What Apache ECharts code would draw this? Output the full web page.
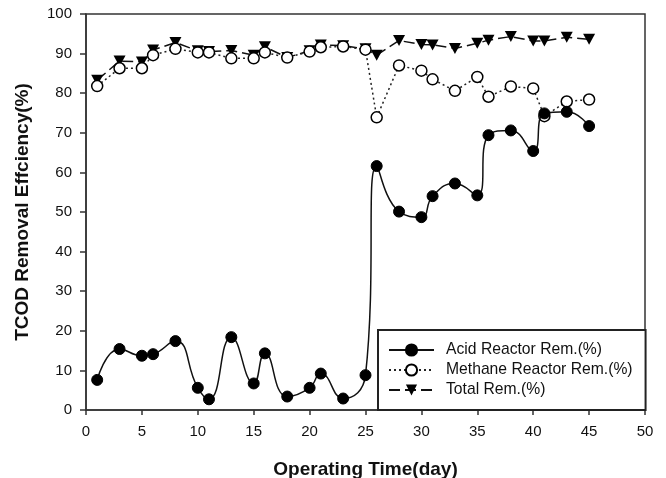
<!DOCTYPE html>
<html><head><meta charset="utf-8">
<script src="https://cdn.jsdelivr.net/npm/echarts@6/dist/echarts.min.js"></script>
<style>html,body{margin:0;padding:0;background:#fff}#c{width:666px;height:478px}</style>
</head><body><div id="c"></div>
<script>
const days = [1,3,5,6,8,10,11,13,15,16,18,20,21,23,25,26,28,30,31,33,35,36,38,40,41,43,45];
const acid = [7.6,15.4,13.7,14.1,17.4,5.6,2.7,18.4,6.7,14.3,3.4,5.6,9.2,2.9,8.8,61.6,50.1,48.7,54.0,57.2,54.2,69.4,70.6,65.4,74.9,75.3,71.7];
const methane = [81.8,86.3,86.3,89.6,91.2,90.3,90.3,88.8,88.8,90.3,89.0,90.5,91.6,91.8,91.0,73.9,87.0,85.7,83.5,80.6,84.1,79.1,81.7,81.2,74.2,77.9,78.4];
const total = [83.3,88.1,87.9,90.9,92.8,90.7,90.5,90.8,89.6,91.7,89.0,90.7,92.2,92.0,91.2,89.6,93.3,92.3,92.2,91.3,92.6,93.4,94.3,93.2,93.2,94.1,93.6];
const seriesNames = ['Acid Reactor Rem.(%)','Methane Reactor Rem.(%)','Total Rem.(%)'];
const xTitle = 'Operating Time(day)';
const yTitle = 'TCOD Removal Effciency(%)';

const pair = (ys) => days.map((d,i)=>[d, ys[i]]);
const font = 'Liberation Sans, Arial, sans-serif';
const chart = echarts.init(document.getElementById('c'), null, {renderer:'canvas'});
chart.setOption({
  animation:false,
  backgroundColor:'#fff',
  grid:{left:86,right:21,top:14,bottom:68,containLabel:false,outerBoundsMode:'none',
        show:true,borderColor:'#333',borderWidth:1.5},
  legend:{
    orient:'vertical', left:378, top:330,
    padding:[12,13,12,10], itemGap:4, itemWidth:45, itemHeight:14,
    borderColor:'#222', borderWidth:2, backgroundColor:'#fff',
    textStyle:{fontFamily:font,fontSize:15.7,color:'#111',padding:[0,0,0,7]},
    data:seriesNames
  },
  xAxis:{
    type:'value',min:0,max:50,interval:5,
    name:xTitle,nameLocation:'middle',nameGap:50,
    nameTextStyle:{fontFamily:font,fontSize:19,fontWeight:'bold',color:'#111'},
    axisLine:{lineStyle:{color:'#333',width:1.5}},
    axisTick:{show:true,inside:false,length:5,lineStyle:{color:'#333',width:1.5}},
    axisLabel:{fontFamily:font,fontSize:15,color:'#111',margin:14},
    splitLine:{show:false}
  },
  yAxis:{
    type:'value',min:0,max:100,interval:10,
    name:yTitle,nameLocation:'middle',nameGap:54,
    nameTextStyle:{fontFamily:font,fontSize:19,fontWeight:'bold',color:'#111'},
    axisLine:{show:true,lineStyle:{color:'#333',width:1.5}},
    axisTick:{show:true,inside:false,length:6,lineStyle:{color:'#333',width:1.5}},
    axisLabel:{fontFamily:font,fontSize:15,color:'#111',margin:14},
    splitLine:{show:false}
  },
  series:[
    {name:seriesNames[0],type:'line',data:pair(acid),smooth:0.5,
     symbol:'circle',symbolSize:11,
     itemStyle:{color:'#000',borderColor:'#000',borderWidth:1},
     lineStyle:{color:'#111',width:1.5,type:'solid'},z:4},
    {name:seriesNames[1],type:'line',data:pair(methane),
     symbol:'circle',symbolSize:11,
     itemStyle:{color:'#fff',borderColor:'#000',borderWidth:1.5},
     lineStyle:{color:'#222',width:1.5,type:[2,3]},z:3},
    {name:seriesNames[2],type:'line',data:pair(total),
     symbol:'triangle',symbolRotate:180,symbolSize:[12,11],
     itemStyle:{color:'#000',borderColor:'#000',borderWidth:0},
     lineStyle:{color:'#111',width:1.5,type:[11,5]},z:2}
  ]
});
</script></body></html>
